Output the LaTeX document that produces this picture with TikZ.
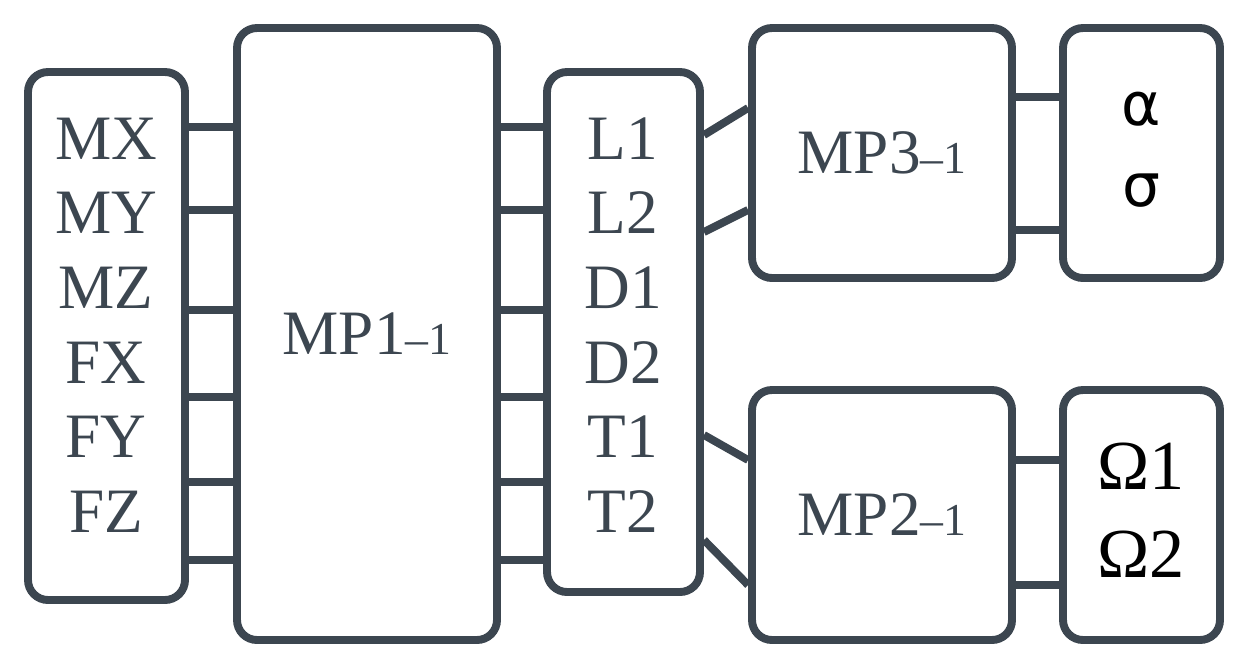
\documentclass[tikz,border=0pt]{standalone}
\usepackage{fontspec}
\setmainfont{Liberation Serif}
\newfontfamily\gsans{DejaVu Sans}
\begin{document}
\begin{tikzpicture}[x=0.02cm,y=-0.02cm,
  box/.style={draw=edge,line width=4.5pt,rounded corners=0.4cm,fill=white,inner sep=0pt,text=txt},
  wire/.style={draw=edge,line width=4.5pt}]
\definecolor{edge}{HTML}{3C4650}
\definecolor{txt}{HTML}{3C4650}
\useasboundingbox (0,0) rectangle (1250,670);
\tikzset{every node/.append style={font=\fontsize{36}{42.5}\selectfont}}
\newcommand{\sbx}[5]{\node[box,minimum width={(#3-#1)*0.02cm},minimum height={(#4-#2)*0.02cm}] (#5) at ({(#1+#3)/2},{(#2+#4)/2}) {};}
\sbx{28}{72}{185}{600}{L}
\sbx{237}{28}{497}{640}{M1}
\sbx{547}{72}{700}{592}{C}
\sbx{752}{28}{1012}{278}{M3}
\sbx{1063}{28}{1220}{278}{A}
\sbx{752}{390}{1012}{640}{M2}
\sbx{1063}{390}{1220}{640}{O}
\foreach \y in {127,210,310,397,482,560}{
  \draw[wire] (L.east |- 0,\y) -- (M1.west |- 0,\y);
  \draw[wire] (M1.east |- 0,\y) -- (C.west |- 0,\y);
}
\draw[wire] (C.east |- 0,135) -- (M3.west |- 0,108);
\draw[wire] (C.east |- 0,232) -- (M3.west |- 0,210);
\draw[wire] (C.east |- 0,435) -- (M2.west |- 0,460);
\draw[wire] (C.east |- 0,540) -- (M2.west |- 0,585);
\foreach \y in {97,230}{\draw[wire] (M3.east |- 0,\y) -- (A.west |- 0,\y);}
\foreach \y in {460,585}{\draw[wire] (M2.east |- 0,\y) -- (O.west |- 0,\y);}
\node[text=txt,align=center] (Lt) at (106,325) {MX\\MY\\MZ\\FX\\FY\\FZ};
\node[text=txt,align=center] (Ct) at (623,325) {L1\\L2\\D1\\D2\\T1\\T2};
\node[text=txt] (M1t) at (M1.center) {MP1{\fontsize{26}{30}\selectfont –1}};
\node[text=txt] (M3t) at (M3.center) {MP3{\fontsize{26}{30}\selectfont –1}};
\node[text=txt] (M2t) at (M2.center) {MP2{\fontsize{26}{30}\selectfont –1}};
\node[text=black,align=center,font=\gsans\fontsize{34}{46}\selectfont] (At) at (1141,150) {α\\σ};
\node[text=black,align=center,font=\fontsize{40}{50}\selectfont] (Ot) at (1141,510) {Ω1\\Ω2};
\end{tikzpicture}
\end{document}
